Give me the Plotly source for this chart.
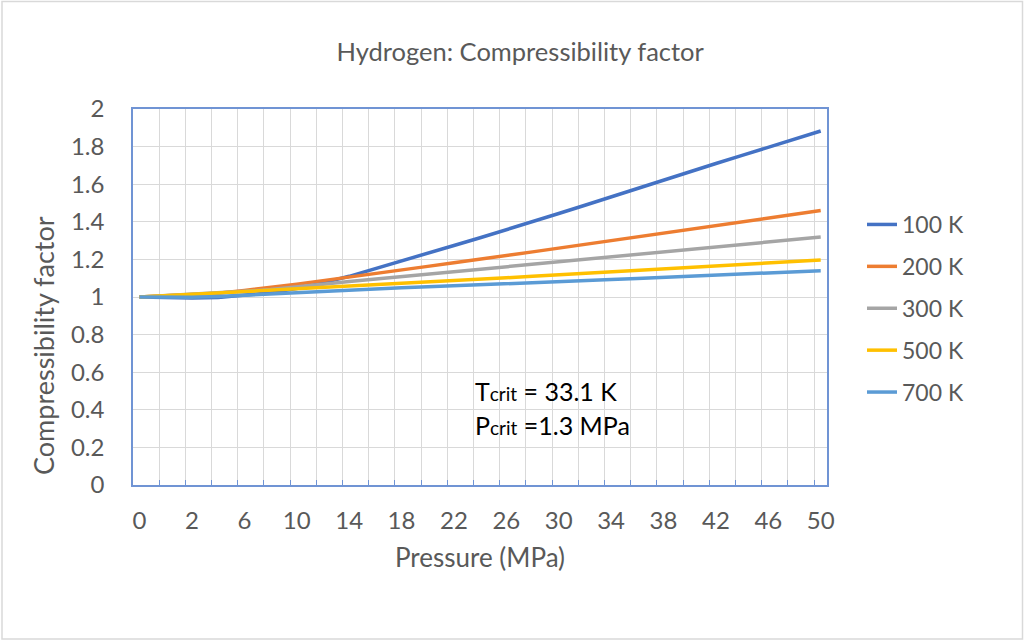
import plotly.graph_objects as go

# Data
pressure = [0, 1, 2, 4, 6, 8, 10, 12, 14, 16, 18, 20, 22, 24, 26, 28, 30, 32, 34, 36, 38, 40, 42, 44, 46, 48, 50]
series_names = ["100 K", "200 K", "300 K", "500 K", "700 K"]
z_100 = [1.000, 0.996, 0.995, 0.998, 1.008, 1.022, 1.045, 1.075, 1.110, 1.150, 1.190, 1.233, 1.274, 1.315,
         1.357, 1.400, 1.444, 1.488, 1.533, 1.578, 1.623, 1.667, 1.710, 1.753, 1.797, 1.840, 1.883]
z_200 = [1.000, 1.008, 1.012, 1.020, 1.035, 1.050, 1.068, 1.087, 1.107, 1.125, 1.145, 1.163, 1.182, 1.200,
         1.220, 1.240, 1.260, 1.280, 1.300, 1.320, 1.340, 1.360, 1.380, 1.400, 1.420, 1.440, 1.460]
z_300 = [1.000, 1.007, 1.012, 1.020, 1.030, 1.040, 1.052, 1.068, 1.082, 1.095, 1.108, 1.120, 1.133, 1.146,
         1.159, 1.172, 1.186, 1.199, 1.212, 1.226, 1.239, 1.252, 1.266, 1.279, 1.292, 1.306, 1.319]
z_500 = [1.000, 1.007, 1.014, 1.022, 1.029, 1.036, 1.043, 1.051, 1.058, 1.065, 1.072, 1.080, 1.087, 1.094,
         1.102, 1.110, 1.118, 1.126, 1.133, 1.141, 1.149, 1.157, 1.165, 1.173, 1.181, 1.189, 1.197]
z_700 = [1.000, 0.998, 0.999, 1.003, 1.010, 1.017, 1.024, 1.031, 1.037, 1.043, 1.049, 1.054, 1.059, 1.064,
         1.070, 1.076, 1.082, 1.088, 1.093, 1.099, 1.105, 1.111, 1.117, 1.122, 1.128, 1.134, 1.140]
series_values = [z_100, z_200, z_300, z_500, z_700]
colors = ["#4472C4", "#ED7D31", "#A5A5A5", "#FFC000", "#5B9BD5"]

# category positions and every-other tick label
cat_idx = list(range(len(pressure)))
label_idx = cat_idx[::2]
label_text = [str(pressure[i]) for i in label_idx]

FONT = "Lato"
GREY = "#595959"
BORDER = "#7094D4"

# plot-area pixel geometry
L, R, T, B = 133, 827, 109, 485
PW, PH = R - L, B - T

fig = go.Figure()
for name, vals, col in zip(series_names, series_values, colors):
    fig.add_trace(go.Scatter(
        x=cat_idx, y=vals, mode="lines", name=name, legendgroup=name,
        line=dict(color=col, width=3.5),
    ))

xr = [-0.25, 26.24]
fig.update_layout(
    width=1024, height=640,
    margin=dict(l=L, r=1024 - R, t=T, b=640 - B),
    paper_bgcolor="white", plot_bgcolor="white",
    font=dict(family=FONT, color=GREY),
    title=dict(text="Hydrogen: Compressibility factor", x=0.508, xanchor="center",
               y=1 - 52 / 640, yanchor="middle", font=dict(size=25.5, color=GREY)),
    xaxis=dict(range=xr, tick0=-0.25, dtick=1, showgrid=True, gridcolor="#D9D9D9", gridwidth=1,
               showticklabels=False, ticks="inside", ticklen=5, tickcolor=BORDER,
               showline=True, linecolor=BORDER, linewidth=1.5, mirror=True, zeroline=False),
    xaxis2=dict(range=xr, overlaying="x", side="bottom", anchor="y", tickmode="array",
                tickvals=label_idx, ticktext=label_text, showgrid=False, zeroline=False,
                showline=False, ticks="", tickfont=dict(size=24, color=GREY),
                ticklabelstandoff=19),
    yaxis=dict(range=[0, 2], dtick=0.2, tick0=0, showgrid=True, gridcolor="#D9D9D9", gridwidth=1,
               showline=True, linecolor=BORDER, linewidth=1.5, mirror=True, zeroline=False,
               ticks="", tickfont=dict(size=24, color=GREY), ticklabelstandoff=22),
    legend=dict(x=(862 - L) / PW, xanchor="left", y=(B - 203) / PH, yanchor="top",
                font=dict(size=23, color=GREY), tracegroupgap=9, bgcolor="rgba(0,0,0,0)"),
    showlegend=True,
)
# invisible trace to activate xaxis2 labels
fig.add_trace(go.Scatter(x=[cat_idx[0]], y=[z_100[0]], xaxis="x2", mode="markers",
                         marker=dict(opacity=0), showlegend=False, hoverinfo="skip"))

# axis titles
fig.add_annotation(text="Pressure (MPa)", xref="paper", yref="paper", x=(479.5 - L) / PW,
                   y=(B - 557) / PH, xanchor="center", yanchor="middle", showarrow=False,
                   font=dict(size=26, color=GREY))
fig.add_annotation(text="Compressibility factor", xref="paper", yref="paper", x=(43 - L) / PW,
                   y=(B - 346) / PH, xanchor="center", yanchor="middle", textangle=-90,
                   showarrow=False, font=dict(size=27, color=GREY))

fig.add_annotation(text="T<span style='font-size:19px'>crit</span> = 33.1 K", xref="paper", yref="paper",
                   x=(473 - L) / PW, y=(B - 391) / PH, xanchor="left", yanchor="middle",
                   showarrow=False, font=dict(size=25, color="black", family=FONT))
fig.add_annotation(text="P<span style='font-size:19px'>crit</span> =1.3 MPa", xref="paper", yref="paper",
                   x=(473 - L) / PW, y=(B - 425) / PH, xanchor="left", yanchor="middle",
                   showarrow=False, font=dict(size=25, color="black", family=FONT))

# outer chart border
fig.add_shape(type="rect", xref="paper", yref="paper",
              x0=(2 - L) / PW, x1=(1022.5 - L) / PW, y0=(B - 639) / PH, y1=(B - 1.5) / PH,
              line=dict(color="#D9D9D9", width=1.5), fillcolor="rgba(0,0,0,0)", layer="below")

fig.write_html("out.html", config={"displayModeBar": False},
               post_script="document.body.style.margin='0';")
